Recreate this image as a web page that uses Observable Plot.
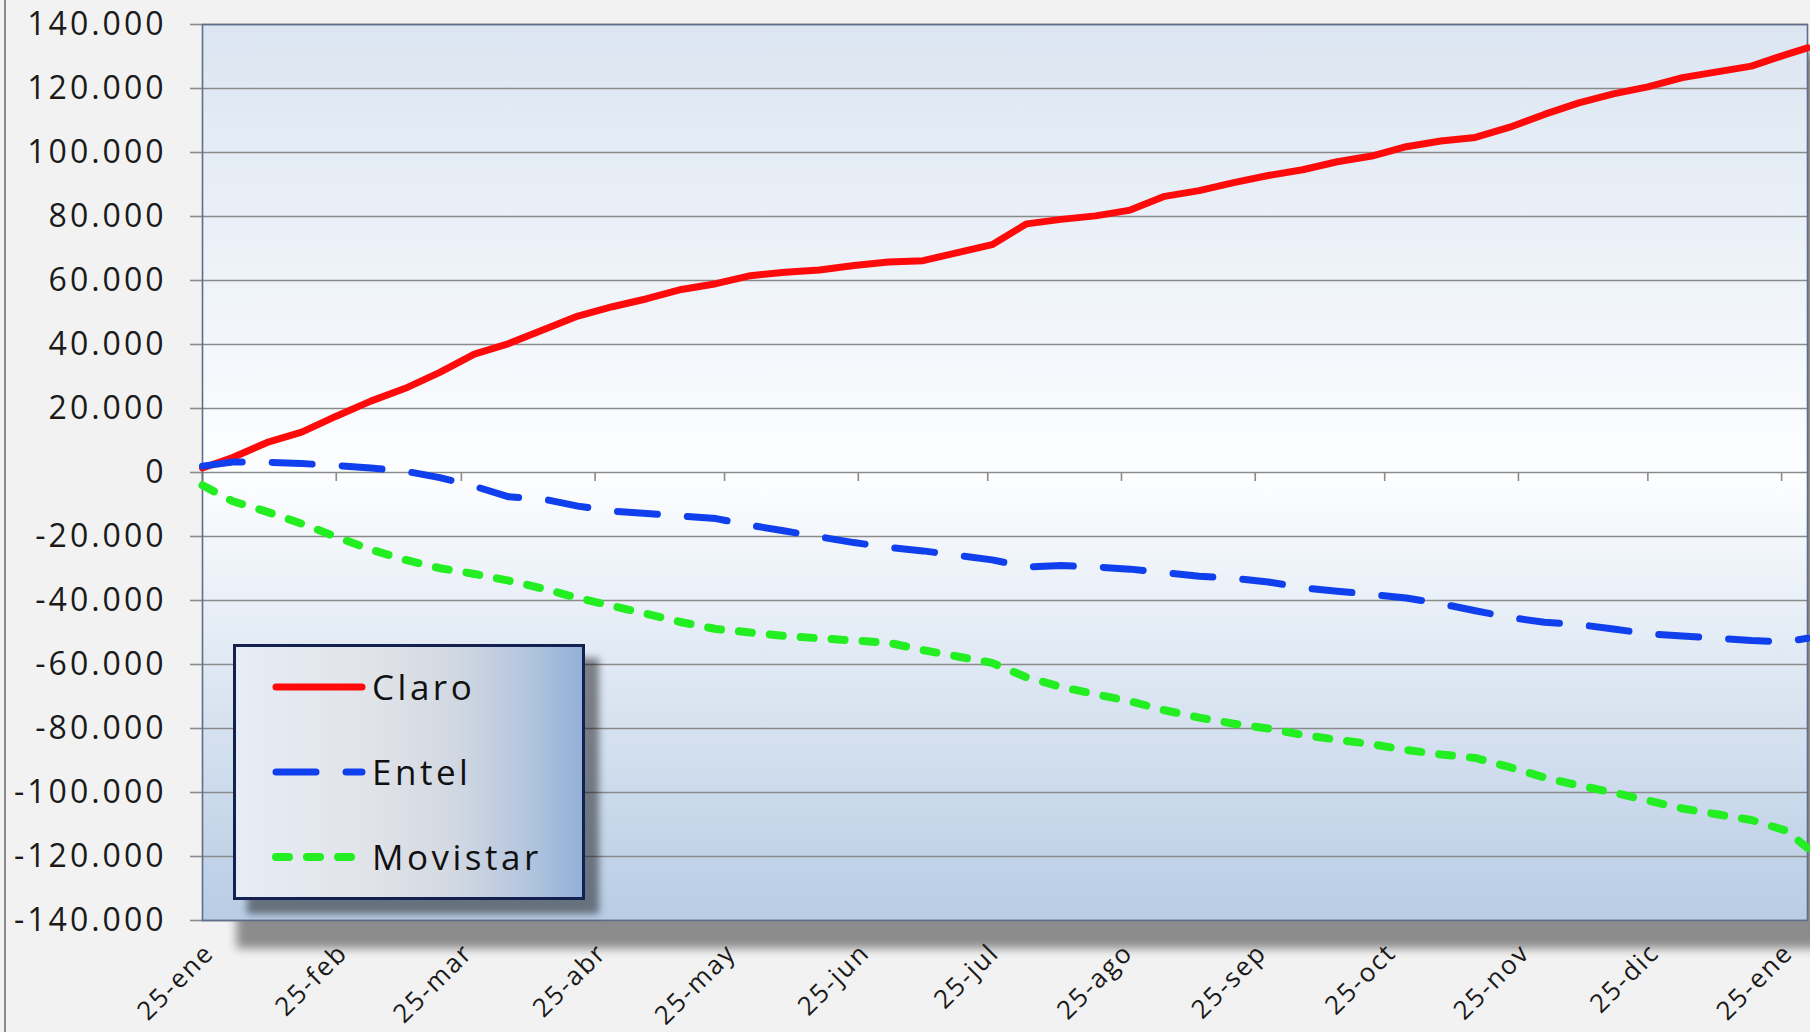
<!DOCTYPE html>
<html>
<head>
<meta charset="utf-8">
<script src="https://cdn.jsdelivr.net/npm/d3@7"></script>
<script src="https://cdn.jsdelivr.net/npm/@observablehq/plot@0.6"></script>
<style>
html,body{margin:0;padding:0;background:#f2f2f2;}
#wrap{position:relative;width:1810px;height:1032px;overflow:hidden;background:#f2f2f2;}
#wrap svg text{letter-spacing:3px;}
#wrap svg g[aria-label="text"] text{letter-spacing:2px;}
#edge{position:absolute;left:4px;top:0;width:2px;height:1032px;background:#8a8a8a;}
#legend{position:absolute;left:233px;top:644px;width:346px;height:250px;border:3px solid #14204f;
  background:linear-gradient(to right,#e7edf6 0%,#e0e3e8 40%,#d3d9e2 62%,#b7c8df 82%,#93b1d8 100%);
  box-shadow:14px 14px 7px rgba(0,0,0,.45);font-family:"Open Sans",sans-serif;}
.row{position:absolute;left:36px;height:40px;display:flex;align-items:center;}
.row span{font-size:35px;letter-spacing:3.5px;color:#111;margin-left:6px;line-height:40px;}
</style>
</head>
<body>
<div id="wrap">
  <div id="edge"></div>
  <div id="chart"></div>
  <div id="legend"></div>
</div>
<script>
// ---- data ----
const dates = [
  "2012-01-25","2012-02-01","2012-02-09","2012-02-17","2012-02-25","2012-03-04","2012-03-12","2012-03-20",
  "2012-03-28","2012-04-05","2012-04-13","2012-04-21","2012-04-29","2012-05-07","2012-05-15","2012-05-23",
  "2012-05-31","2012-06-08","2012-06-16","2012-06-24","2012-07-02","2012-07-10","2012-07-18","2012-07-26",
  "2012-08-03","2012-08-11","2012-08-19","2012-08-27","2012-09-04","2012-09-12","2012-09-20","2012-09-28",
  "2012-10-06","2012-10-14","2012-10-22","2012-10-30","2012-11-07","2012-11-15","2012-11-23","2012-12-01",
  "2012-12-09","2012-12-17","2012-12-25","2013-01-02","2013-01-10","2013-01-18","2013-01-26","2013-01-31"
];
const claro = [
  1400, 4700, 9400, 12600, 17600, 22300, 26300, 31300, 37000, 40300, 44600, 48900, 51800, 54300, 57200, 59000,
  61500, 62600, 63300, 64700, 65800, 66200, 68700, 71200, 77700, 79100, 80200, 82000, 86300, 88100, 90600, 92800,
  94600, 97100, 98900, 101800, 103600, 104700, 107900, 111900, 115500, 118300, 120500, 123400, 125200, 127000, 130600, 132700
];
const entel = [
  2000, 3300, 3200, 2800, 2200, 1400, 400, -1600, -4300, -7600, -8300, -10500, -12100, -12800, -13600, -14400,
  -16500, -18300, -20100, -21900, -23400, -24500, -25900, -27300, -29500, -29100, -29500, -30200, -31300, -32400, -33100, -34200,
  -36000, -37100, -38100, -39200, -41000, -43200, -45300, -46800, -47500, -48900, -50400, -51100, -51800, -52500, -52900, -51800
];
const movistar = [
  -4000, -9000, -12300, -16000, -20100, -24100, -27300, -29900, -31700, -33800, -36300, -39200, -41700, -44200, -46800, -48900,
  -50000, -51100, -51800, -52500, -53200, -55500, -57500, -59500, -64000, -67000, -69300, -71500, -74300, -76600, -78500, -80000,
  -82000, -83500, -84900, -86700, -88100, -89200, -92100, -95300, -97800, -100000, -102500, -105000, -106800, -108600, -111900, -117300
];
const seriesNames = ["Claro", "Entel", "Movistar"];
const xDomain = ["2012-01-25", "2013-01-31"];
const yDomain = [-140000, 140000];
const yTicks = [-140000, -120000, -100000, -80000, -60000, -40000, -20000, 0, 20000, 40000, 60000, 80000, 100000, 120000, 140000];
const monthTickDates = [
  "2012-01-25","2012-02-25","2012-03-25","2012-04-25","2012-05-25","2012-06-25","2012-07-25",
  "2012-08-25","2012-09-25","2012-10-25","2012-11-25","2012-12-25","2013-01-25"
];
const monthLabels = ["25-ene","25-feb","25-mar","25-abr","25-may","25-jun","25-jul","25-ago","25-sep","25-oct","25-nov","25-dic","25-ene"];

// ---- styles ----
const styles = {
  Claro:    {stroke: "#ff0a0a", strokeWidth: 7, dash: null},
  Entel:    {stroke: "#1040ee", strokeWidth: 7, dash: "40,30"},
  Movistar: {stroke: "#22ee22", strokeWidth: 8, dash: "13,18"}
};

const parse = d3.utcParse("%Y-%m-%d");
const fmt = d3.formatLocale({decimal: ",", thousands: ".", grouping: [3], currency: ["$", ""], minus: "-"}).format(",");
const build = (vals) => dates.map((d, i) => ({date: parse(d), value: vals[i]}));
const seriesData = {Claro: build(claro), Entel: build(entel), Movistar: build(movistar)};
const ticksX = monthTickDates.map(parse);

const lineMarks = seriesNames.map(name => Plot.line(seriesData[name], {
  x: "date", y: "value",
  stroke: styles[name].stroke, strokeWidth: styles[name].strokeWidth,
  strokeDasharray: styles[name].dash || undefined,
  strokeLinecap: "round", strokeLinejoin: "round"
}));

const chart = Plot.plot({
  width: 1810, height: 1032,
  marginLeft: 202, marginRight: 3, marginTop: 24, marginBottom: 112,
  style: {background: "transparent", fontFamily: "'Open Sans', sans-serif", fontSize: "32px", color: "#1a1a1a"},
  x: {type: "utc", domain: xDomain.map(parse), axis: null},
  y: {domain: yDomain, axis: null},
  marks: [
    Plot.frame({fill: "#ffffff"}),
    Plot.gridY(yTicks, {stroke: "#8a8a8a", strokeOpacity: 1, strokeWidth: 1.6}),
    Plot.axisY(yTicks, {label: null, tickSize: 12, tickPadding: 24, tickFormat: fmt, stroke: "#8a8a8a", strokeWidth: 1.6, fontSize: 32, fill: "#1a1a1a"}),
    Plot.ruleX(ticksX, {x: d => d, y1: 0, y2: 0, insetBottom: -9, stroke: "#8a8a8a", strokeWidth: 1.6}),
    Plot.text(ticksX, {x: d => d, frameAnchor: "bottom", text: (d, i) => monthLabels[i], rotate: -45,
      textAnchor: "end", lineAnchor: "middle", dx: 7, dy: 28, fontSize: 26, fill: "#1a1a1a"}),
    Plot.frame({stroke: "#5d6d8c", strokeWidth: 1.6}),
    ...lineMarks
  ]
});

// gradient background + drop shadow for the plot area
const svg = d3.select(chart);
svg.insert("defs", ":first-child").html(
  '<linearGradient id="plotBg" x1="0" y1="0" x2="0" y2="1">' +
  '<stop offset="0" stop-color="#dbe5f1"/>' +
  '<stop offset="0.5" stop-color="#fdfeff"/>' +
  '<stop offset="1" stop-color="#b8cce4"/>' +
  '</linearGradient>');
const frames = chart.querySelectorAll('[aria-label="frame"]');
if (frames.length) {
  frames[0].setAttribute("fill", "url(#plotBg)");
  frames[0].style.filter = "drop-shadow(34px 28px 5px rgba(0,0,0,0.42))";
}
document.getElementById("chart").appendChild(chart);

// legend
const legend = d3.select("#legend");
seriesNames.forEach((name, i) => {
  const row = legend.append("div").attr("class", "row").style("top", (20 + i * 85) + "px");
  const sw = row.append("svg").attr("width", 94).attr("height", 14);
  const ln = sw.append("line").attr("x1", 4).attr("x2", 90).attr("y1", 7).attr("y2", 7)
    .attr("stroke", styles[name].stroke).attr("stroke-width", styles[name].strokeWidth)
    .attr("stroke-linecap", "round");
  if (styles[name].dash) ln.attr("stroke-dasharray", styles[name].dash);
  row.append("span").text(name);
});
</script>
</body>
</html>
